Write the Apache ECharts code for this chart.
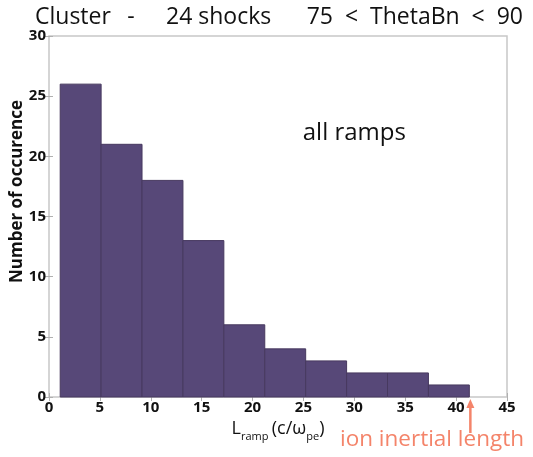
<!DOCTYPE html>
<html>
<head>
<meta charset="utf-8">
<script src="https://cdn.jsdelivr.net/npm/echarts@6/dist/echarts.min.js"></script>
<style>
  html, body { margin: 0; padding: 0; background: #fff; }
  #chart { width: 533px; height: 457px; }
</style>
</head>
<body>
<div id="chart"></div>
<script>
// Histogram of shock ramp widths (in units of c/omega_pe)
const binStart = 1.1;      // left edge of the first bin
const binWidth = 4.02;     // width of each bin
const counts = [26, 21, 18, 13, 6, 4, 3, 2, 2, 1];
const xTicks = [0, 5, 10, 15, 20, 25, 30, 35, 40, 45];
const yTicks = [0, 5, 10, 15, 20, 25, 30];
const titleParts = ['Cluster', '-', '24 shocks', '75  <  ThetaBn  <  90'];
const insetText = 'all ramps';
const markerText = 'ion inertial length';
const markerX = 41.4;

const bins = counts.map((c, i) => [binStart + i * binWidth, binStart + (i + 1) * binWidth, c]);

const chart = echarts.init(document.getElementById('chart'), null, { renderer: 'canvas' });

const tickFont = { fontFamily: 'Open Sans', fontWeight: 'bold', fontSize: 15, color: '#111' };
const boxColor = '#c8c8c8';
const tickColor = '#b0b0b0';

const option = {
  animation: false,
  grid: {
    left: 49, right: 26, top: 36, bottom: 60,
    outerBoundsMode: 'none', containLabel: false,
    show: true, borderColor: boxColor, borderWidth: 1.5, backgroundColor: '#fff'
  },
  xAxis: [
    {
      type: 'value', min: 0, max: 45, interval: 5, position: 'bottom',
      axisLine: { show: false },
      axisTick: { show: true, inside: true, length: 4, lineStyle: { color: tickColor } },
      axisLabel: Object.assign({ margin: 3, formatter: v => String(v) }, tickFont),
      splitLine: { show: false }
    },
    {
      type: 'value', min: 0, max: 45, interval: 5, position: 'top',
      axisLine: { show: false },
      axisTick: { show: true, inside: true, length: 4, lineStyle: { color: tickColor } },
      axisLabel: { show: false }, splitLine: { show: false }
    }
  ],
  yAxis: [
    {
      type: 'value', min: 0, max: 30, interval: 5, position: 'left',
      axisLine: { show: false },
      axisTick: { show: true, inside: true, length: 4, lineStyle: { color: tickColor } },
      axisLabel: Object.assign({ margin: 3 }, tickFont),
      splitLine: { show: false },
      name: 'Number of occurence', nameLocation: 'middle', nameGap: 23, nameRotate: 90,
      nameMoveOverlap: false,
      nameTextStyle: { fontFamily: 'Open Sans', fontWeight: 'bold', fontSize: 17, color: '#111', padding: [0, 0, 0, 50] }
    },
    {
      type: 'value', min: 0, max: 30, interval: 5, position: 'right',
      axisLine: { show: false },
      axisTick: { show: true, inside: true, length: 4, lineStyle: { color: tickColor } },
      axisLabel: { show: false }, splitLine: { show: false }
    }
  ],
  series: [{
    type: 'custom',
    xAxisIndex: 0, yAxisIndex: 0,
    data: bins,
    renderItem: function (params, api) {
      const p0 = api.coord([api.value(0), api.value(2)]);
      const p1 = api.coord([api.value(1), 0]);
      return {
        type: 'rect',
        shape: { x: p0[0], y: p0[1], width: p1[0] - p0[0], height: p1[1] - p0[1] },
        style: { fill: '#574878', stroke: '#47395f', lineWidth: 1 }
      };
    }
  }]
};

chart.setOption(option);

// Title pieces and annotations, placed through the axis scales
function place() {
  const base = chart.convertToPixel({ xAxisIndex: 0, yAxisIndex: 0 }, [markerX, 0]);
  const inset = chart.convertToPixel({ xAxisIndex: 0, yAxisIndex: 0 }, [30, 21.9]);
  const axisMid = chart.convertToPixel({ xAxisIndex: 0, yAxisIndex: 0 }, [22.5, 0]);
  const titleStyle = { fontFamily: 'Open Sans', fontSize: 23, fill: '#111', verticalAlign: 'middle' };
  chart.setOption({
    graphic: [
      { type: 'text', x: 35, y: 17, style: Object.assign({ text: titleParts[0], align: 'left' }, titleStyle) },
      { type: 'text', x: 131, y: 17, style: Object.assign({ text: titleParts[1], align: 'center' }, titleStyle) },
      { type: 'text', x: 166, y: 17, style: Object.assign({ text: titleParts[2], align: 'left' }, titleStyle) },
      { type: 'text', x: 523, y: 17, style: Object.assign({ text: titleParts[3], align: 'right' }, titleStyle) },
      {
        type: 'text', x: inset[0], y: inset[1],
        style: { text: insetText, fontFamily: 'Open Sans', fontSize: 24, fill: '#111', align: 'center', verticalAlign: 'middle' }
      },
      {
        type: 'text', x: axisMid[0], y: axisMid[1] + 32,
        style: {
          text: '{l|L}{s|ramp} {l|(c/ω}{s|pe}{l|)}',
          align: 'center', verticalAlign: 'middle',
          rich: {
            l: { fontFamily: 'Open Sans', fontSize: 18, fill: '#111', verticalAlign: 'bottom' },
            s: { fontFamily: 'Open Sans', fontSize: 11, fill: '#111', verticalAlign: 'bottom', padding: [0, 0, -4, 0] }
          }
        }
      },
      {
        type: 'line',
        shape: { x1: base[0], y1: base[1] + 36, x2: base[0], y2: base[1] + 6 },
        style: { stroke: '#f4846a', lineWidth: 2.5 }
      },
      {
        type: 'polygon',
        shape: { points: [[base[0] - 4, base[1] + 11], [base[0] + 4, base[1] + 11], [base[0], base[1] + 2]] },
        style: { fill: '#f4846a' }
      },
      {
        type: 'text', x: 432, y: base[1] + 43,
        style: { text: markerText, fontFamily: 'Open Sans', fontSize: 22.5, fill: '#f4846a', align: 'center', verticalAlign: 'middle' }
      }
    ]
  });
}
place();
</script>
</body>
</html>
